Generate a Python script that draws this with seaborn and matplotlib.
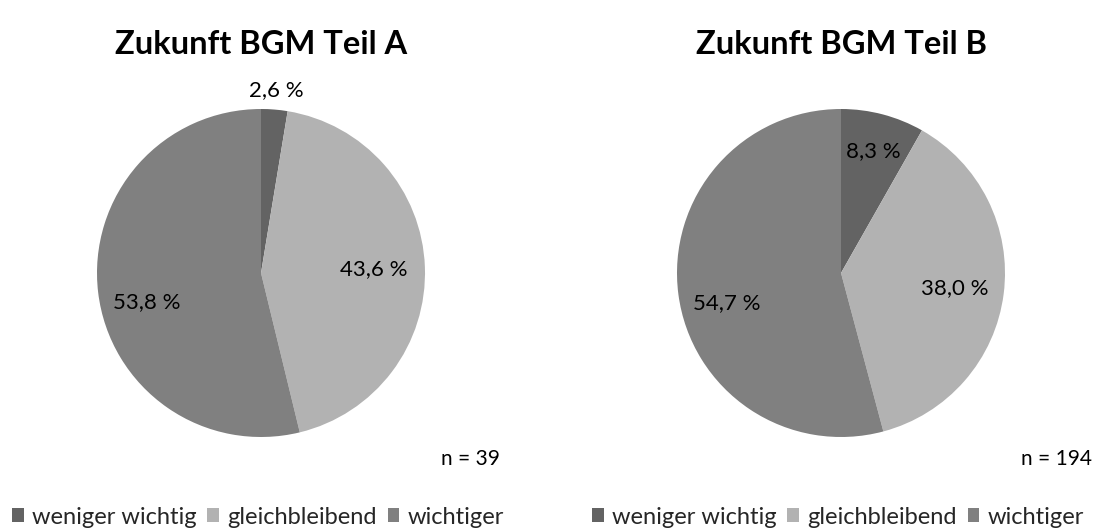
import matplotlib
matplotlib.use("Agg")
import numpy as np
import matplotlib.pyplot as plt
import seaborn as sns
from matplotlib.patches import Patch

sns.set_theme(style="white")
plt.rcParams['font.family'] = ['Lato', 'DejaVu Sans']

categories = ["weniger wichtig", "gleichbleibend", "wichtiger"]
titles = ["Zukunft BGM Teil A", "Zukunft BGM Teil B"]
values_a = [2.6, 43.6, 53.8]
values_b = [8.3, 38.0, 54.7]
labels_a = ["2,6 %", "43,6 %", "53,8 %"]
labels_b = ["8,3 %", "38,0 %", "54,7 %"]
n_labels = ["n = 39", "n = 194"]
colors = ["#636363", "#b2b2b2", "#808080"]

W, H = 1105, 530
fig = plt.figure(figsize=(W / 100, H / 100), dpi=100)
fig.patch.set_facecolor("white")

R = 164
centers = [(261, 273), (841, 273)]
datasets = [(values_a, labels_a), (values_b, labels_b)]
# label radius (fraction of pie radius) and vertical nudge (points)
label_style = [[(1.12, 0), (0.69, 0), (0.70, -11)],
               [(0.77, 0), (0.70, 0), (0.70, -11)]]

for i, ((cx, cy), (vals, labs)) in enumerate(zip(centers, datasets)):
    ax = fig.add_axes([(cx - R) / W, (H - cy - R) / H, 2 * R / W, 2 * R / H])
    wedges, _ = ax.pie(vals, colors=colors, startangle=90, counterclock=False,
                       wedgeprops=dict(linewidth=0))
    for w, lab, (r, dy) in zip(wedges, labs, label_style[i]):
        ang = np.deg2rad((w.theta1 + w.theta2) / 2)
        ax.annotate(lab, (r * np.cos(ang), r * np.sin(ang)), xytext=(0, dy),
                    textcoords="offset points", ha="center", va="center",
                    fontsize=16, color="#000000", annotation_clip=False)
    ax.set_xlim(-1, 1)
    ax.set_ylim(-1, 1)
    ax.set_aspect("equal")
    ax.axis("off")
    fig.text(cx / W, 1 - 45 / H, titles[i], ha="center", va="center",
             fontsize=23.5, fontweight="bold", color="#000000")
    fig.text((cx + 180) / W, 1 - 459 / H, n_labels[i], ha="left", va="center",
             fontsize=15, color="#000000")
    handles = [Patch(facecolor=c, edgecolor="none") for c in colors]
    fig.legend(handles, categories, loc="center left",
               bbox_to_anchor=((cx - 249) / W, 1 - 517 / H), ncol=3,
               frameon=False, fontsize=17, handlelength=0.5, handleheight=0.5,
               handletextpad=0.35, columnspacing=0.45, borderpad=0, borderaxespad=0)

fig.savefig("out.png", dpi=100, facecolor="white")
